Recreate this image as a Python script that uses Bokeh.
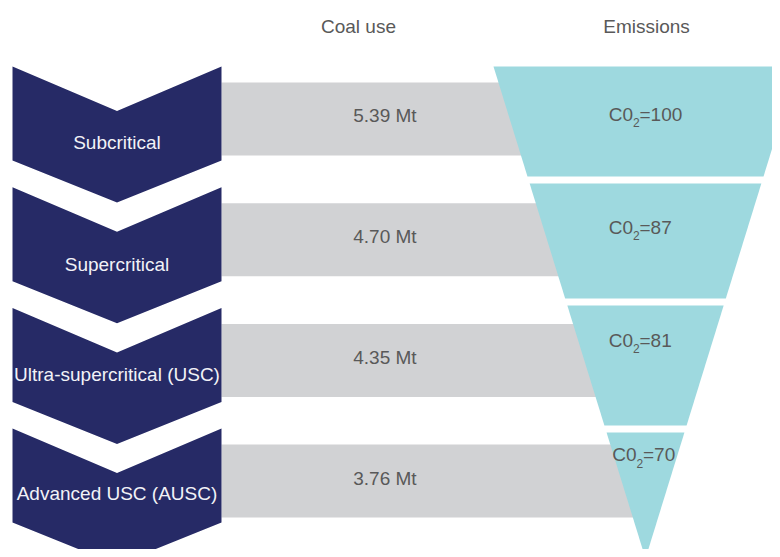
from bokeh.plotting import figure
from bokeh.models import Range1d, ColumnDataSource
from bokeh.core.properties import value
from bokeh.embed import file_html
from bokeh.resources import INLINE

# ---- data ----
technologies = ["Subcritical", "Supercritical", "Ultra-supercritical (USC)", "Advanced USC (AUSC)"]
coal_use = [5.39, 4.70, 4.35, 3.76]
emissions = [100, 87, 81, 70]
headers = ["Coal use", "Emissions"]

# ---- layout constants (pixel-like coordinates) ----
FONT = value("Liberation Sans")
NAVY = "#262A66"
GREY = "#D1D2D4"
TEAL = "#9ED9DF"
TXT = "#595959"

row_step = 120.7
chev_top0 = 66.0
chev_left, chev_right = 12.0, 221.0
chev_mid = (chev_left + chev_right) / 2
bar_top0, bar_h = 82.0, 73.0
bar_right = 645.0

fun_top, fun_left_top, fun_right_top, fun_apex_x, fun_apex_y = 66.0, 493.0, 797.0, 645.0, 558.0
fun_bounds = [(66, 176), (183, 298), (305, 425), (432, 558)]

DY = -7.3  # text baseline correction
label_base = [149, 271, 381.5, 500]
co2_base = [121, 234.3, 347.3, 461.7]
co2_x = [632.5, 632.5, 632.5, 636.0]

p = figure(width=772, height=549, x_range=Range1d(0, 772), y_range=Range1d(549, 0),
           output_backend="svg", toolbar_location=None, min_border=0)
p.axis.visible = False
p.grid.visible = False
p.outline_line_color = None
p.background_fill_color = "white"

n = len(technologies)

# grey bars
bar_src = ColumnDataSource(dict(
    left=[chev_right] * n, right=[bar_right] * n,
    top=[bar_top0 + i * row_step for i in range(n)],
    bottom=[bar_top0 + i * row_step + bar_h for i in range(n)],
))
p.quad(left="left", right="right", top="top", bottom="bottom", source=bar_src,
       fill_color=GREY, line_color=None)

# chevrons
cxs, cys = [], []
for i in range(n):
    T = chev_top0 + i * row_step
    cxs.append([chev_left, chev_mid, chev_right, chev_right, chev_mid, chev_left])
    cys.append([T, T + 44.5, T, T + 94, T + 136, T + 94])
p.patches(cxs, cys, fill_color=NAVY, line_color=None)

# funnel
def fx(y):
    f = (y - fun_top) / (fun_apex_y - fun_top)
    return (fun_left_top + (fun_apex_x - fun_left_top) * f,
            fun_right_top + (fun_apex_x - fun_right_top) * f)

fxs, fys = [], []
for (y0, y1) in fun_bounds:
    l0, r0 = fx(y0)
    l1, r1 = fx(y1)
    fxs.append([l0, r0, r1, l1])
    fys.append([y0, y0, y1, y1])
p.patches(fxs, fys, fill_color=TEAL, line_color=None)

# headers
p.text(x=[358, 646], y=[33.3 + DY] * 2, text=headers, text_font=FONT, text_font_size="19px",
       text_color=TXT, text_align="center", text_baseline="alphabetic")

# technology labels
p.text(x=[chev_mid] * n, y=[b + DY for b in label_base], text=technologies, text_font=FONT,
       text_font_size="19px", text_color="#F2F2F7", text_align="center",
       text_baseline="alphabetic")

# coal use labels
p.text(x=[384.4] * n, y=[bar_top0 + i * row_step + 40.7 + DY for i in range(n)],
       text=[f"{v:.2f} Mt" for v in coal_use], text_font=FONT, text_font_size="19px",
       text_color=TXT, text_align="center", text_baseline="alphabetic")

# CO2 labels: "C0" + subscript "2" + "=value"
p.text(x=co2_x, y=[b + DY for b in co2_base], text=["C0"] * n, text_font=FONT,
       text_font_size="19px", text_color=TXT, text_align="right", text_baseline="alphabetic")
p.text(x=co2_x, y=[b + 6 + DY * 0.7 for b in co2_base], text=["2"] * n, text_font=FONT,
       text_font_size="12px", text_color=TXT, text_align="left", text_baseline="alphabetic")
p.text(x=[x + 6.5 for x in co2_x], y=[b + DY for b in co2_base],
       text=[f"={v}" for v in emissions], text_font=FONT, text_font_size="19px",
       text_color=TXT, text_align="left", text_baseline="alphabetic")

open("out.html", "w").write(file_html(p, INLINE))
